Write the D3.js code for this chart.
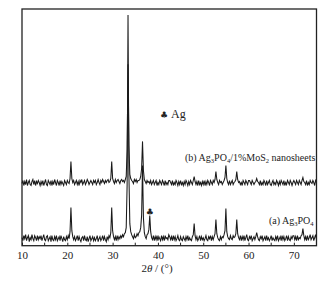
<!DOCTYPE html>
<html><head><meta charset="utf-8">
<script src="https://cdn.jsdelivr.net/npm/d3@7"></script>
<style>body{margin:0;background:#fff}svg{display:block}</style>
</head><body>
<svg id="c" width="336" height="282"></svg>
<script>
// 2θ sampling: start 10°, step 0.2°
const thetaStart = 10, thetaStep = 0.2;
const xTicksMajor = [10,20,30,40,50,60,70];
const xTicksMinor = [15,25,35,45,55,65,75];
// (a) Ag3PO4 intensity (a.u.)
const seriesA = [
8,5,10,7,11,5,8,10,4,8,6,11,7,5,10,8,5,10,6,9,
7,10,5,8,11,6,5,9,10,5,7,9,4,10,6,5,9,6,10,5,
7,9,5,10,7,4,9,6,5,9,6,10,7,14,38,15,9,6,9,5,
7,10,5,9,6,4,8,9,5,10,6,5,9,4,7,10,5,7,9,5,
8,5,7,10,4,7,9,5,7,10,5,9,6,4,9,6,10,8,13,38,
15,9,6,9,5,10,6,9,7,10,8,11,9,12,13,18,60,230,70,22,
14,11,9,7,11,8,9,12,10,13,14,18,30,80,28,13,9,7,11,12,
16,30,14,8,6,10,5,9,6,10,5,9,7,5,10,6,9,5,10,7,
8,6,11,9,6,9,5,10,6,9,5,7,10,6,5,9,6,5,9,7,
5,9,6,10,5,8,6,5,9,11,22,10,6,9,5,7,10,5,9,6,
8,5,7,10,6,5,9,7,10,5,9,6,9,12,26,12,8,6,5,9,
6,9,8,11,15,37,14,9,7,6,10,7,6,10,8,9,12,26,12,8,
6,10,5,9,6,10,5,8,11,6,5,9,7,10,5,7,9,6,9,13,
9,6,5,9,7,10,5,7,9,5,10,6,8,5,7,10,5,8,6,5,
9,6,10,5,7,9,5,10,6,9,5,7,10,5,9,6,5,9,7,10,
10,6,9,5,10,6,8,7,10,11,17,10,6,9,5,10,6,8,11,6,
8,10,5,8,11,6];
// (b) Ag3PO4/1%MoS2 nanosheets intensity (a.u.), before stacking offset
const seriesB = [
7,10,5,9,6,11,5,8,10,6,5,9,11,6,10,5,9,7,10,8,
5,9,6,10,5,8,11,6,5,10,8,6,10,5,9,6,11,8,5,10,
8,5,10,6,9,7,5,10,8,6,10,8,7,12,29,12,8,10,6,8,
10,6,9,5,10,8,11,6,8,10,6,8,11,9,6,8,10,8,6,10,
8,10,6,8,11,8,6,10,8,11,9,7,10,8,10,11,8,9,12,29,
12,9,7,11,8,10,11,9,7,10,11,9,10,8,11,14,40,126,45,16,
12,10,9,7,11,9,11,8,10,10,11,14,22,49,20,11,9,7,10,8,
9,7,10,6,8,10,6,8,10,5,8,6,10,8,6,10,8,5,10,6,
8,6,10,10,8,6,10,5,8,6,10,8,5,9,6,10,6,8,5,9,
6,10,8,5,9,6,10,8,6,10,14,9,6,9,5,10,6,8,5,9,
6,10,5,9,6,10,8,5,10,8,6,10,8,11,19,11,8,6,10,8,
9,6,8,10,13,25,12,8,6,10,6,8,10,6,8,9,11,19,11,8,
9,6,8,5,10,8,6,10,8,6,10,10,8,6,10,8,6,8,9,12,
9,8,6,10,5,8,6,10,8,5,10,6,8,10,6,5,8,10,6,8,
6,10,8,5,9,6,10,8,6,10,5,8,6,10,8,6,10,8,5,8,
10,8,6,10,8,6,10,8,6,10,13,9,8,6,10,5,8,6,10,8,
7,10,8,5,10,8];
const offsetB = 55;
const agPeak = 38.2; // Ag reflection marked with ♣
const agPeakIntensity = 30;

const svg = d3.select('#c');
const m = {l:22, r:19.5, t:9, b:36.3};
const W = 336, H = 282;
const x = d3.scaleLinear().domain([10,75]).range([m.l, W-m.r]);
const y = d3.scaleLinear().domain([0,236]).range([H-m.b, m.t]);
const serif = '"Liberation Serif","DejaVu Serif",serif';

const line = d3.line().x((d,i)=>x(thetaStart+i*thetaStep)).y(d=>y(d));
svg.append('path').datum(seriesA).attr('d',line)
  .attr('fill','none').attr('stroke','#1a1a1a').attr('stroke-width',1.05);
svg.append('path').datum(seriesB.map(v=>v+offsetB)).attr('d',line)
  .attr('fill','none').attr('stroke','#1a1a1a').attr('stroke-width',1.05);

// axis
const ax = svg.append('g').attr('transform',`translate(0,${H-m.b})`)
  .call(d3.axisBottom(x).tickValues(xTicksMajor).tickSize(-3).tickPadding(6).tickFormat(d3.format('d')));
ax.select('.domain').remove();
ax.selectAll('line').attr('stroke','#222');
ax.selectAll('text').attr('font-family',serif).attr('font-size',11).attr('fill','#222');
svg.append('g').attr('transform',`translate(0,${H-m.b})`)
  .selectAll('line').data(xTicksMinor).join('line')
  .attr('x1',d=>x(d)).attr('x2',d=>x(d)).attr('y1',0).attr('y2',-3).attr('stroke','#222');

// frame
svg.append('rect').attr('x',m.l).attr('y',m.t).attr('width',W-m.l-m.r).attr('height',H-m.t-m.b)
  .attr('fill','none').attr('stroke','#222').attr('stroke-width',1.3);

// axis title
const t = svg.append('text').attr('x',157).attr('y',272).attr('text-anchor','middle')
  .attr('font-family',serif).attr('font-size',11).attr('fill','#222');
t.append('tspan').text('2');
t.append('tspan').attr('font-style','italic').text('θ');
t.append('tspan').text(' / (°)');

// Ag marker
svg.append('text').attr('x',x(agPeak)).attr('y',y(agPeakIntensity)-1).attr('text-anchor','middle')
  .attr('font-family','DejaVu Sans').attr('font-size',9).attr('fill','#222').text('♣');
const ag = svg.append('text').attr('x',160).attr('y',118).attr('font-family',serif).attr('font-size',12).attr('fill','#222');
ag.append('tspan').attr('font-family','DejaVu Sans').attr('font-size',9).text('♣');
ag.append('tspan').attr('dx',3).text('Ag');

function label(xp, yp, parts){
  const el = svg.append('text').attr('x',xp).attr('y',yp).attr('font-family',serif).attr('font-size',10).attr('fill','#222');
  parts.forEach(p=>{
    if(p[1]) el.append('tspan').attr('font-size',6.5).attr('dy',2).text(p[0]);
    else el.append('tspan').attr('dy', p[2]||0).text(p[0]);
  });
}
label(185,161,[['(b) Ag'],['3',1],['PO',0,-2],['4',1],['/1%MoS',0,-2],['2',1],[' nanosheets',0,-2]]);
label(269,224,[['(a) Ag'],['3',1],['PO',0,-2],['4',1]]);
</script>
</body></html>
